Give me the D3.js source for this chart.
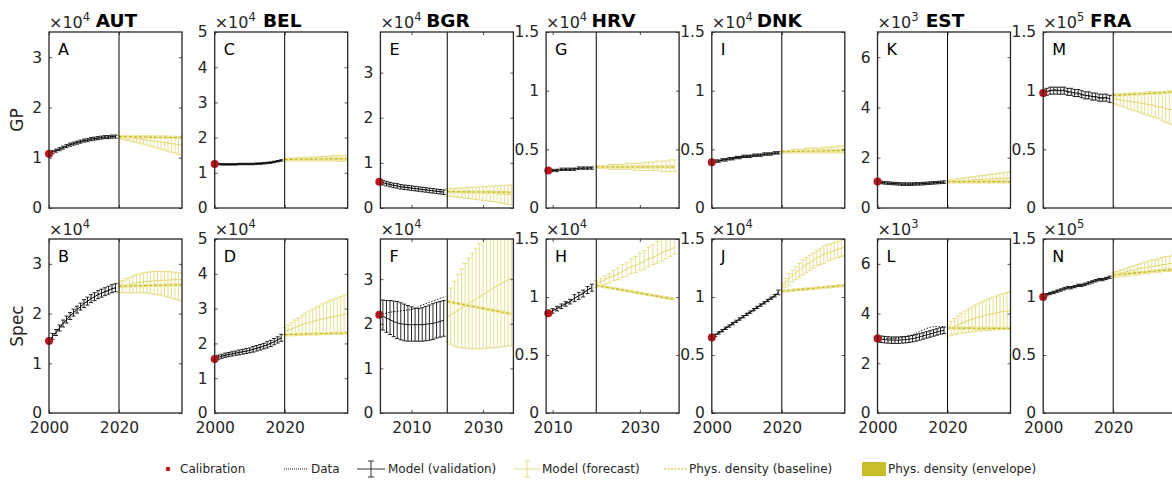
<!DOCTYPE html>
<html>
<head>
<meta charset="utf-8">
<script src="https://cdn.jsdelivr.net/npm/d3@7"></script>
<style>
  body { margin: 0; background: #fff; overflow: hidden; }
  svg { display: block; font-family: "DejaVu Sans", sans-serif; }
</style>
</head>
<body>
<svg id="fig" width="1172" height="481"></svg>
<script>
// ---- panel settings (one entry per country column) ----
const countries = ['AUT', 'BEL', 'BGR', 'HRV', 'DNK', 'EST', 'FRA'];
const exponents = [4, 4, 4, 4, 4, 3, 5];
const yMax = [3.5, 5, 3.9, 1.5, 1.5, 7, 1.5];
const yTicks = [[0, 1, 2, 3], [0, 1, 2, 3, 4, 5], [0, 1, 2, 3], [0, 0.5, 1, 1.5], [0, 0.5, 1, 1.5], [0, 2, 4, 6], [0, 0.5, 1, 1.5]];
const startYear = [2000, 2000, 2001, 2009, 2000, 2000, 2000];
const xLimits = [[2000, 2038], [2000, 2038], [2001.3, 2038.5], [2008.5, 2039], [2000, 2038], [2000, 2038], [2000, 2038]];
const xTicks = [[2000, 2020], [2000, 2020], [2010, 2030], [2010, 2030], [2000, 2020], [2000, 2020], [2000, 2020]];
const rowNames = ['GP', 'Spec'];
const letters = [['A', 'C', 'E', 'G', 'I', 'K', 'M'], ['B', 'D', 'F', 'H', 'J', 'L', 'N']];
const splitYear = 2020;
const fcYears = [2020, 2021, 2022, 2023, 2024, 2025, 2026, 2027, 2028, 2029, 2030, 2031, 2032, 2033, 2034, 2035, 2036, 2037, 2038];
const baseYears = [2020, 2038];

// ---- AUT ----
const autGpMid = [1.08,1.11,1.14,1.17,1.20,1.23,1.26,1.28,1.30,1.32,1.34,1.35,1.37,1.38,1.39,1.40,1.41,1.41,1.42,1.42];
const autGpLo = [1.05,1.08,1.11,1.14,1.17,1.20,1.23,1.25,1.27,1.29,1.31,1.32,1.34,1.35,1.36,1.37,1.38,1.38,1.39,1.39];
const autGpHi = [1.11,1.14,1.17,1.20,1.23,1.26,1.29,1.31,1.33,1.35,1.37,1.38,1.40,1.41,1.42,1.43,1.44,1.44,1.45,1.45];
const autGpObs = [1.08,1.10,1.15,1.16,1.21,1.22,1.27,1.27,1.31,1.31,1.35,1.34,1.38,1.37,1.40,1.39,1.42,1.40,1.43,1.41];
const autGpFMid = [1.41,1.41,1.40,1.39,1.39,1.38,1.37,1.36,1.35,1.34,1.33,1.32,1.31,1.30,1.29,1.28,1.27,1.26,1.24];
const autGpFLo = [1.38,1.37,1.35,1.34,1.32,1.30,1.29,1.27,1.25,1.23,1.21,1.19,1.17,1.15,1.13,1.11,1.09,1.07,1.05];
const autGpFHi = [1.44,1.44,1.44,1.44,1.44,1.44,1.44,1.44,1.44,1.43,1.43,1.43,1.43,1.43,1.43,1.42,1.42,1.42,1.42];
const autGpBase = [1.42, 1.40];

const autSpMid = [1.45,1.54,1.62,1.71,1.80,1.88,1.95,2.02,2.08,2.14,2.20,2.25,2.30,2.34,2.38,2.41,2.44,2.47,2.50,2.52];
const autSpLo = [1.40,1.48,1.56,1.65,1.73,1.81,1.88,1.95,2.01,2.07,2.12,2.17,2.22,2.26,2.30,2.33,2.36,2.39,2.42,2.44];
const autSpHi = [1.50,1.60,1.68,1.77,1.87,1.95,2.02,2.09,2.15,2.21,2.28,2.33,2.38,2.42,2.46,2.49,2.52,2.55,2.58,2.60];
const autSpObs = [1.45,1.53,1.63,1.70,1.81,1.87,1.96,2.01,2.09,2.13,2.21,2.24,2.31,2.33,2.39,2.40,2.45,2.46,2.51,2.51];
const autSpFMid = [2.52,2.55,2.57,2.59,2.61,2.62,2.63,2.64,2.65,2.65,2.66,2.66,2.67,2.67,2.67,2.68,2.68,2.68,2.68];
const autSpFLo = [2.42,2.42,2.42,2.42,2.42,2.42,2.42,2.42,2.41,2.40,2.39,2.38,2.37,2.35,2.33,2.31,2.29,2.27,2.25];
const autSpFHi = [2.62,2.66,2.70,2.73,2.76,2.78,2.80,2.82,2.83,2.84,2.85,2.85,2.85,2.85,2.84,2.84,2.83,2.82,2.81];
const autSpBase = [2.55, 2.58];

// ---- BEL ----
const belGpMid = [1.25,1.25,1.24,1.24,1.24,1.24,1.24,1.25,1.25,1.25,1.25,1.25,1.26,1.26,1.27,1.28,1.29,1.31,1.33,1.35];
const belGpLo = [1.23,1.23,1.22,1.22,1.22,1.22,1.22,1.23,1.23,1.23,1.23,1.23,1.24,1.24,1.25,1.26,1.27,1.29,1.31,1.33];
const belGpHi = [1.27,1.27,1.26,1.26,1.26,1.26,1.26,1.27,1.27,1.27,1.27,1.27,1.28,1.28,1.29,1.30,1.31,1.33,1.35,1.37];
const belGpObs = [1.25,1.24,1.25,1.23,1.24,1.25,1.23,1.25,1.26,1.24,1.25,1.26,1.25,1.27,1.27,1.29,1.29,1.32,1.33,1.36];
const belGpFMid = [1.37,1.37,1.38,1.38,1.38,1.39,1.39,1.39,1.40,1.40,1.40,1.40,1.41,1.41,1.41,1.41,1.42,1.42,1.42];
const belGpFLo = [1.34,1.34,1.34,1.34,1.34,1.34,1.34,1.34,1.34,1.34,1.34,1.34,1.34,1.34,1.33,1.33,1.33,1.33,1.33];
const belGpFHi = [1.40,1.41,1.41,1.42,1.43,1.43,1.44,1.44,1.45,1.45,1.46,1.46,1.47,1.47,1.48,1.48,1.49,1.49,1.50];
const belGpBase = [1.38, 1.40];

const belSpMid = [1.55,1.60,1.63,1.66,1.68,1.70,1.72,1.74,1.76,1.78,1.80,1.83,1.86,1.89,1.92,1.96,2.00,2.05,2.10,2.16];
const belSpLo = [1.49,1.54,1.57,1.60,1.62,1.64,1.66,1.67,1.69,1.71,1.73,1.75,1.78,1.81,1.84,1.87,1.91,1.96,2.01,2.06];
const belSpHi = [1.61,1.66,1.69,1.72,1.74,1.76,1.78,1.81,1.83,1.85,1.87,1.91,1.94,1.97,2.00,2.05,2.09,2.14,2.19,2.26];
const belSpObs = [1.55,1.59,1.64,1.65,1.69,1.69,1.73,1.73,1.77,1.77,1.81,1.82,1.87,1.88,1.93,1.95,2.01,2.04,2.11,2.15];
const belSpFMid = [2.33,2.38,2.42,2.46,2.50,2.54,2.57,2.60,2.63,2.66,2.68,2.71,2.73,2.75,2.77,2.79,2.81,2.83,2.85];
const belSpFLo = [2.22,2.24,2.25,2.26,2.27,2.27,2.28,2.28,2.28,2.28,2.28,2.28,2.28,2.28,2.28,2.28,2.28,2.28,2.28];
const belSpFHi = [2.45,2.53,2.60,2.67,2.74,2.81,2.87,2.93,2.99,3.04,3.09,3.14,3.19,3.23,3.27,3.31,3.35,3.39,3.43];
const belSpBase = [2.25, 2.30];

// ---- BGR ----
const bgrGpMid = [0.58,0.56,0.54,0.52,0.50,0.49,0.47,0.46,0.45,0.44,0.43,0.42,0.41,0.40,0.39,0.38,0.37,0.36,0.35];
const bgrGpLo = [0.53,0.51,0.49,0.47,0.45,0.44,0.42,0.41,0.40,0.39,0.38,0.37,0.36,0.35,0.34,0.33,0.32,0.31,0.30];
const bgrGpHi = [0.63,0.61,0.59,0.57,0.55,0.54,0.52,0.51,0.50,0.49,0.48,0.47,0.46,0.45,0.44,0.43,0.42,0.41,0.40];
const bgrGpObs = [0.58,0.57,0.54,0.53,0.50,0.50,0.47,0.47,0.45,0.45,0.43,0.43,0.41,0.41,0.39,0.39,0.37,0.37,0.35];
const bgrGpFMid = [0.35,0.35,0.35,0.35,0.34,0.34,0.34,0.34,0.33,0.33,0.33,0.32,0.32,0.32,0.31,0.31,0.31,0.30,0.30];
const bgrGpFLo = [0.27,0.26,0.25,0.24,0.23,0.22,0.21,0.20,0.19,0.18,0.17,0.16,0.15,0.14,0.13,0.11,0.10,0.08,0.07];
const bgrGpFHi = [0.43,0.43,0.44,0.44,0.44,0.45,0.45,0.46,0.46,0.47,0.47,0.48,0.48,0.49,0.49,0.50,0.50,0.51,0.51];
const bgrGpBase = [0.36, 0.35];

const bgrSpMid = [2.20,2.17,2.13,2.09,2.05,2.02,2.00,1.99,1.98,1.98,1.98,1.98,1.98,1.99,2.00,2.01,2.03,2.05,2.08];
const bgrSpLo = [1.90,1.86,1.81,1.76,1.71,1.67,1.64,1.62,1.61,1.61,1.61,1.61,1.61,1.62,1.63,1.65,1.68,1.70,1.72];
const bgrSpHi = [2.53,2.53,2.52,2.52,2.51,2.50,2.47,2.44,2.41,2.38,2.35,2.34,2.36,2.39,2.42,2.45,2.48,2.50,2.52];
const bgrSpObs = [2.20,2.22,2.24,2.26,2.27,2.28,2.29,2.30,2.31,2.32,2.34,2.38,2.42,2.45,2.48,2.51,2.54,2.57,2.60];
const bgrSpFMid = [2.15,2.20,2.25,2.30,2.35,2.40,2.45,2.50,2.55,2.60,2.65,2.70,2.75,2.80,2.85,2.90,2.94,2.99,3.04];
const bgrSpFLo = [1.60,1.54,1.50,1.47,1.46,1.45,1.45,1.44,1.44,1.44,1.45,1.45,1.46,1.46,1.47,1.48,1.49,1.50,1.51];
const bgrSpFHi = [2.62,2.80,2.95,3.10,3.23,3.35,3.47,3.58,3.69,3.80,3.90,4.00,4.10,4.20,4.30,4.40,4.50,4.60,4.70];
const bgrSpBase = [2.50, 2.22];

// ---- HRV ----
const hrvGpMid = [0.32,0.32,0.32,0.33,0.33,0.33,0.33,0.34,0.34,0.34,0.34];
const hrvGpLo = [0.31,0.31,0.31,0.32,0.32,0.32,0.32,0.33,0.33,0.33,0.33];
const hrvGpHi = [0.33,0.33,0.33,0.34,0.34,0.34,0.34,0.35,0.35,0.35,0.35];
const hrvGpObs = [0.32,0.32,0.33,0.32,0.33,0.33,0.34,0.33,0.34,0.34,0.35];
const hrvGpFMid = [0.35,0.35,0.35,0.35,0.35,0.35,0.35,0.35,0.35,0.35,0.36,0.36,0.36,0.36,0.36,0.36,0.36,0.36,0.36];
const hrvGpFLo = [0.34,0.34,0.34,0.33,0.33,0.33,0.33,0.33,0.33,0.32,0.32,0.32,0.32,0.32,0.32,0.31,0.31,0.31,0.31];
const hrvGpFHi = [0.36,0.36,0.36,0.37,0.37,0.37,0.37,0.38,0.38,0.38,0.38,0.39,0.39,0.39,0.40,0.40,0.40,0.41,0.41];
const hrvGpBase = [0.35, 0.35];

const hrvSpMid = [0.86,0.88,0.90,0.92,0.94,0.96,0.99,1.01,1.03,1.06,1.08];
const hrvSpLo = [0.84,0.86,0.88,0.90,0.92,0.94,0.96,0.98,1.00,1.03,1.05];
const hrvSpHi = [0.88,0.90,0.92,0.94,0.96,0.98,1.02,1.04,1.06,1.09,1.11];
const hrvSpObs = [0.86,0.88,0.91,0.92,0.95,0.96,0.99,1.01,1.04,1.06,1.09];
const hrvSpFMid = [1.11,1.13,1.15,1.17,1.18,1.20,1.22,1.24,1.26,1.27,1.29,1.31,1.33,1.34,1.36,1.38,1.40,1.41,1.43];
const hrvSpFLo = [1.08,1.09,1.11,1.12,1.14,1.15,1.17,1.18,1.20,1.21,1.23,1.24,1.26,1.28,1.29,1.31,1.33,1.35,1.37];
const hrvSpFHi = [1.14,1.16,1.18,1.20,1.23,1.25,1.28,1.30,1.33,1.35,1.38,1.40,1.43,1.45,1.48,1.50,1.52,1.54,1.56];
const hrvSpBase = [1.10, 0.98];

// ---- DNK ----
const dnkGpMid = [0.39,0.40,0.40,0.41,0.41,0.42,0.42,0.43,0.43,0.44,0.44,0.44,0.45,0.45,0.45,0.46,0.46,0.46,0.47,0.47];
const dnkGpLo = [0.38,0.39,0.39,0.40,0.40,0.41,0.41,0.42,0.42,0.43,0.43,0.43,0.44,0.44,0.44,0.45,0.45,0.45,0.46,0.46];
const dnkGpHi = [0.40,0.41,0.41,0.42,0.42,0.43,0.43,0.44,0.44,0.45,0.45,0.45,0.46,0.46,0.46,0.47,0.47,0.47,0.48,0.48];
const dnkGpObs = [0.39,0.39,0.40,0.41,0.42,0.41,0.42,0.43,0.44,0.43,0.44,0.45,0.44,0.45,0.46,0.45,0.46,0.47,0.46,0.47];
const dnkGpFMid = [0.48,0.48,0.48,0.48,0.48,0.49,0.49,0.49,0.49,0.49,0.49,0.49,0.50,0.50,0.50,0.50,0.50,0.50,0.50];
const dnkGpFLo = [0.47,0.47,0.47,0.47,0.47,0.47,0.47,0.47,0.47,0.47,0.47,0.47,0.47,0.47,0.47,0.47,0.47,0.47,0.47];
const dnkGpFHi = [0.49,0.49,0.49,0.50,0.50,0.50,0.50,0.51,0.51,0.51,0.51,0.51,0.52,0.52,0.52,0.52,0.53,0.53,0.53];
const dnkGpBase = [0.48, 0.49];

const dnkSpMid = [0.65,0.67,0.69,0.71,0.73,0.75,0.77,0.79,0.81,0.83,0.85,0.87,0.89,0.91,0.93,0.95,0.97,0.99,1.01,1.04];
const dnkSpLo = [0.64,0.66,0.68,0.70,0.72,0.74,0.76,0.78,0.80,0.82,0.84,0.86,0.88,0.90,0.92,0.94,0.96,0.98,1.00,1.02];
const dnkSpHi = [0.66,0.68,0.70,0.72,0.74,0.76,0.78,0.80,0.82,0.84,0.86,0.88,0.90,0.92,0.94,0.96,0.98,1.00,1.02,1.06];
const dnkSpObs = [0.65,0.67,0.70,0.71,0.74,0.75,0.78,0.79,0.82,0.83,0.86,0.87,0.90,0.91,0.94,0.95,0.98,0.99,1.02,1.04];
const dnkSpFMid = [1.09,1.12,1.15,1.18,1.21,1.23,1.26,1.28,1.30,1.32,1.34,1.35,1.37,1.38,1.39,1.40,1.41,1.42,1.43];
const dnkSpFLo = [1.06,1.08,1.10,1.13,1.15,1.17,1.19,1.21,1.23,1.25,1.27,1.28,1.29,1.31,1.32,1.33,1.34,1.35,1.36];
const dnkSpFHi = [1.12,1.16,1.20,1.23,1.26,1.29,1.32,1.34,1.36,1.38,1.40,1.42,1.44,1.45,1.46,1.47,1.48,1.49,1.50];
const dnkSpBase = [1.05, 1.10];

// ---- EST ----
const estGpMid = [1.05,1.02,1.00,0.99,0.98,0.97,0.96,0.95,0.95,0.95,0.95,0.96,0.96,0.97,0.98,0.99,1.00,1.01,1.02,1.03];
const estGpLo = [1.00,0.97,0.95,0.94,0.93,0.92,0.91,0.90,0.90,0.90,0.90,0.91,0.91,0.92,0.93,0.94,0.95,0.96,0.97,0.98];
const estGpHi = [1.10,1.07,1.05,1.04,1.03,1.02,1.01,1.00,1.00,1.00,1.00,1.01,1.01,1.02,1.03,1.04,1.05,1.06,1.07,1.08];
const estGpObs = [1.05,1.01,1.01,0.98,0.99,0.96,0.97,0.94,0.96,0.94,0.96,0.95,0.97,0.96,0.99,0.98,1.01,1.00,1.03,1.02];
const estGpFMid = [1.05,1.06,1.07,1.08,1.09,1.10,1.10,1.11,1.12,1.13,1.14,1.14,1.15,1.16,1.17,1.17,1.18,1.19,1.20];
const estGpFLo = [1.00,1.00,1.00,1.00,1.00,1.00,1.00,1.00,1.00,1.00,1.00,1.00,1.00,1.00,1.00,1.00,1.00,1.00,1.00];
const estGpFHi = [1.10,1.12,1.14,1.16,1.18,1.20,1.22,1.24,1.26,1.28,1.30,1.31,1.33,1.35,1.37,1.39,1.41,1.43,1.45];
const estGpBase = [1.05, 1.05];

const estSpMid = [3.00,2.97,2.95,2.94,2.93,2.93,2.93,2.94,2.95,2.97,2.99,3.02,3.06,3.10,3.14,3.18,3.22,3.26,3.30,3.33];
const estSpLo = [2.87,2.84,2.82,2.81,2.80,2.80,2.80,2.81,2.82,2.84,2.86,2.89,2.93,2.97,3.01,3.05,3.09,3.13,3.17,3.20];
const estSpHi = [3.13,3.10,3.08,3.07,3.06,3.06,3.06,3.07,3.08,3.10,3.12,3.15,3.19,3.23,3.27,3.31,3.35,3.39,3.43,3.46];
const estSpObs = [3.05,3.02,3.00,2.99,2.99,3.00,3.01,3.03,3.06,3.10,3.15,3.20,3.27,3.34,3.40,3.45,3.47,3.48,3.47,3.45];
const estSpFMid = [3.35,3.42,3.49,3.55,3.61,3.67,3.72,3.77,3.82,3.86,3.90,3.94,3.97,4.00,4.03,4.06,4.08,4.10,4.12];
const estSpFLo = [3.10,3.13,3.16,3.19,3.21,3.23,3.25,3.27,3.29,3.30,3.31,3.32,3.33,3.34,3.35,3.36,3.37,3.38,3.38];
const estSpFHi = [3.55,3.68,3.80,3.91,4.01,4.10,4.19,4.27,4.35,4.42,4.49,4.55,4.61,4.66,4.71,4.76,4.80,4.84,4.87];
const estSpBase = [3.42, 3.40];

// ---- FRA ----
const fraGpMid = [0.98,0.99,1.00,1.00,1.00,1.00,1.00,0.99,0.99,0.98,0.98,0.97,0.96,0.96,0.95,0.95,0.94,0.94,0.94,0.93];
const fraGpLo = [0.95,0.96,0.97,0.97,0.97,0.97,0.97,0.96,0.96,0.95,0.95,0.94,0.93,0.93,0.92,0.92,0.91,0.91,0.91,0.90];
const fraGpHi = [1.01,1.02,1.03,1.03,1.03,1.03,1.03,1.02,1.02,1.01,1.01,1.00,0.99,0.99,0.98,0.98,0.97,0.97,0.97,0.96];
const fraGpObs = [0.98,1.00,1.00,1.01,1.01,1.00,1.01,0.99,0.98,0.97,0.97,0.96,0.96,0.95,0.95,0.94,0.94,0.93,0.94,0.93];
const fraGpFMid = [0.93,0.93,0.92,0.92,0.91,0.91,0.90,0.90,0.89,0.89,0.88,0.88,0.87,0.86,0.86,0.85,0.84,0.84,0.83];
const fraGpFLo = [0.89,0.88,0.87,0.86,0.85,0.84,0.83,0.82,0.81,0.80,0.79,0.78,0.77,0.76,0.74,0.73,0.72,0.71,0.70];
const fraGpFHi = [0.97,0.97,0.97,0.97,0.98,0.98,0.98,0.98,0.98,0.98,0.99,0.99,0.99,0.99,0.99,0.99,1.00,1.00,1.00];
const fraGpBase = [0.96, 0.99];

const fraSpMid = [1.00,1.02,1.03,1.04,1.05,1.06,1.07,1.08,1.08,1.09,1.10,1.10,1.11,1.12,1.13,1.14,1.15,1.15,1.16,1.17];
const fraSpLo = [0.99,1.01,1.02,1.03,1.04,1.05,1.06,1.07,1.07,1.08,1.09,1.09,1.10,1.11,1.12,1.13,1.14,1.14,1.15,1.16];
const fraSpHi = [1.01,1.03,1.04,1.05,1.06,1.07,1.08,1.09,1.09,1.10,1.11,1.11,1.12,1.13,1.14,1.15,1.16,1.16,1.17,1.18];
const fraSpObs = [1.00,1.02,1.04,1.04,1.06,1.06,1.08,1.08,1.09,1.09,1.10,1.11,1.11,1.13,1.13,1.15,1.15,1.16,1.16,1.18];
const fraSpFMid = [1.19,1.20,1.21,1.21,1.22,1.23,1.23,1.24,1.25,1.25,1.26,1.26,1.27,1.27,1.28,1.28,1.29,1.29,1.30];
const fraSpFLo = [1.17,1.17,1.18,1.18,1.18,1.19,1.19,1.19,1.20,1.20,1.20,1.21,1.21,1.21,1.22,1.22,1.22,1.23,1.23];
const fraSpFHi = [1.21,1.22,1.23,1.24,1.25,1.26,1.27,1.28,1.29,1.30,1.31,1.32,1.32,1.33,1.34,1.35,1.35,1.36,1.37];
const fraSpBase = [1.19, 1.24];

// rows of [mid, lo, hi, obs, fcMid, fcLo, fcHi, base], same order as countries
const gpRows = [
  [autGpMid, autGpLo, autGpHi, autGpObs, autGpFMid, autGpFLo, autGpFHi, autGpBase],
  [belGpMid, belGpLo, belGpHi, belGpObs, belGpFMid, belGpFLo, belGpFHi, belGpBase],
  [bgrGpMid, bgrGpLo, bgrGpHi, bgrGpObs, bgrGpFMid, bgrGpFLo, bgrGpFHi, bgrGpBase],
  [hrvGpMid, hrvGpLo, hrvGpHi, hrvGpObs, hrvGpFMid, hrvGpFLo, hrvGpFHi, hrvGpBase],
  [dnkGpMid, dnkGpLo, dnkGpHi, dnkGpObs, dnkGpFMid, dnkGpFLo, dnkGpFHi, dnkGpBase],
  [estGpMid, estGpLo, estGpHi, estGpObs, estGpFMid, estGpFLo, estGpFHi, estGpBase],
  [fraGpMid, fraGpLo, fraGpHi, fraGpObs, fraGpFMid, fraGpFLo, fraGpFHi, fraGpBase],
];
const specRows = [
  [autSpMid, autSpLo, autSpHi, autSpObs, autSpFMid, autSpFLo, autSpFHi, autSpBase],
  [belSpMid, belSpLo, belSpHi, belSpObs, belSpFMid, belSpFLo, belSpFHi, belSpBase],
  [bgrSpMid, bgrSpLo, bgrSpHi, bgrSpObs, bgrSpFMid, bgrSpFLo, bgrSpFHi, bgrSpBase],
  [hrvSpMid, hrvSpLo, hrvSpHi, hrvSpObs, hrvSpFMid, hrvSpFLo, hrvSpFHi, hrvSpBase],
  [dnkSpMid, dnkSpLo, dnkSpHi, dnkSpObs, dnkSpFMid, dnkSpFLo, dnkSpFHi, dnkSpBase],
  [estSpMid, estSpLo, estSpHi, estSpObs, estSpFMid, estSpFLo, estSpFHi, estSpBase],
  [fraSpMid, fraSpLo, fraSpHi, fraSpObs, fraSpFMid, fraSpFLo, fraSpFHi, fraSpBase],
];

// ---- layout ----
const colLeft0 = 49, colStep = 165.7, plotW = 133;
const rowTop = [32, 239], rowH = [176, 174];
const ink = '#262626';
const black = '#000';
const fcColor = '#e0d66c';
const baseColor = '#c6b414';
const baseGlow = '#eee8a6';
const calColor = '#c0141c';
const tickFont = 15.5;

const svg = d3.select('#fig');
const defs = svg.append('defs');

function errorBars(g, x, y, years, lo, hi, color, cap, width) {
  const bars = g.append('g').attr('stroke', color).attr('stroke-width', width).attr('fill', 'none');
  years.forEach((yr, i) => {
    const px = x(yr);
    bars.append('line').attr('x1', px).attr('x2', px).attr('y1', y(lo[i])).attr('y2', y(hi[i]));
    bars.append('line').attr('x1', px - cap).attr('x2', px + cap).attr('y1', y(lo[i])).attr('y2', y(lo[i]));
    bars.append('line').attr('x1', px - cap).attr('x2', px + cap).attr('y1', y(hi[i])).attr('y2', y(hi[i]));
  });
}

function drawPanel(col, row) {
  const s = row === 0 ? gpRows[col] : specRows[col];
  const [mid, lo, hi, obs, fMid, fLo, fHi, base] = s;
  const left = colLeft0 + col * colStep;
  const top = rowTop[row];
  const h = rowH[row];
  const g = svg.append('g').attr('transform', `translate(${left},${top})`);

  const x = d3.scaleLinear().domain(xLimits[col]).range([0, plotW]);
  const y = d3.scaleLinear().domain([0, yMax[col]]).range([h, 0]);
  const valYears = d3.range(startYear[col], splitYear);

  const clipId = `clip-${col}-${row}`;
  defs.append('clipPath').attr('id', clipId)
    .append('rect').attr('width', plotW).attr('height', h);
  const plot = g.append('g').attr('clip-path', `url(#${clipId})`);

  // forecast (yellow)
  errorBars(plot, x, y, fcYears, fLo, fHi, fcColor, 2.5, 0.75);
  plot.append('path').datum(fMid)
    .attr('fill', 'none').attr('stroke', fcColor).attr('stroke-width', 1)
    .attr('d', d3.line().x((d, i) => x(fcYears[i])).y(d => y(d)));

  // physical density baseline
  const baseLine = d3.line().x((d, i) => x(baseYears[i])).y(d => y(d));
  plot.append('path').datum(base)
    .attr('fill', 'none').attr('stroke', baseGlow).attr('stroke-width', 3.5).attr('d', baseLine);
  plot.append('path').datum(base)
    .attr('fill', 'none').attr('stroke', baseColor).attr('stroke-width', 1.1)
    .attr('stroke-dasharray', '3,2').attr('d', baseLine);

  // validation (black)
  errorBars(plot, x, y, valYears, lo, hi, black, 2, 0.85);
  plot.append('path').datum(mid)
    .attr('fill', 'none').attr('stroke', black).attr('stroke-width', 0.9)
    .attr('d', d3.line().x((d, i) => x(valYears[i])).y(d => y(d)));
  plot.append('path').datum(obs)
    .attr('fill', 'none').attr('stroke', black).attr('stroke-width', 0.9)
    .attr('stroke-dasharray', '1.5,1.5')
    .attr('d', d3.line().x((d, i) => x(valYears[i])).y(d => y(d)));

  // split line
  g.append('line').attr('x1', x(splitYear)).attr('x2', x(splitYear))
    .attr('y1', 0).attr('y2', h).attr('stroke', black).attr('stroke-width', 1);

  // calibration point
  g.append('circle').attr('cx', x(startYear[col])).attr('cy', y(mid[0]))
    .attr('r', 4).attr('fill', calColor);

  // axes (ticks pointing inward on all four sides)
  const fmt = d => String(d);
  const axL = g.append('g').call(d3.axisLeft(y).tickValues(yTicks[col]).tickSize(-3).tickSizeOuter(0).tickPadding(7).tickFormat(fmt));
  const axR = g.append('g').attr('transform', `translate(${plotW},0)`)
    .call(d3.axisRight(y).tickValues(yTicks[col]).tickSize(-3).tickSizeOuter(0).tickFormat(''));
  const axB = g.append('g').attr('transform', `translate(0,${h})`)
    .call(d3.axisBottom(x).tickValues(xTicks[col]).tickSize(-3).tickSizeOuter(0).tickPadding(9)
      .tickFormat(row === 1 ? d3.format('d') : ''));
  const axT = g.append('g')
    .call(d3.axisTop(x).tickValues(xTicks[col]).tickSize(-3).tickSizeOuter(0).tickFormat(''));
  [axL, axR, axB, axT].forEach(a => {
    a.select('.domain').remove();
    a.selectAll('line').attr('stroke', ink).attr('stroke-width', 0.8);
    a.selectAll('text').attr('fill', ink).style('font-size', tickFont + 'px')
      .style('font-family', '"DejaVu Sans", sans-serif');
  });
  g.append('rect').attr('width', plotW).attr('height', h)
    .attr('fill', 'none').attr('stroke', ink).attr('stroke-width', 1.3);

  // exponent label
  const ex = g.append('text').attr('x', 0).attr('y', -4).attr('fill', ink)
    .style('font-size', '16px');
  ex.append('tspan').text('\u00d710');
  ex.append('tspan').attr('dy', -7).style('font-size', '11.5px').text(exponents[col]);

  // country title (top row only)
  if (row === 0) {
    g.append('text').attr('x', plotW / 2 + 1).attr('y', -5).attr('text-anchor', 'middle')
      .attr('fill', black).style('font-size', '18.5px').style('font-weight', 'bold')
      .text(countries[col]);
  }

  // panel letter
  g.append('text').attr('x', 9).attr('y', 23).attr('fill', black)
    .style('font-size', '16px').text(letters[row][col]);
}

for (let r = 0; r < 2; r++) {
  for (let c = 0; c < countries.length; c++) drawPanel(c, r);
}

// row labels
rowNames.forEach((name, r) => {
  const cy = rowTop[r] + rowH[r] / 2;
  svg.append('text').attr('transform', `translate(23,${cy}) rotate(-90)`)
    .attr('text-anchor', 'middle').attr('fill', ink).style('font-size', '17px').text(name);
});

// ---- legend ----
const legY = 469;
const leg = svg.append('g').style('font-size', '12px').attr('fill', ink);
function legText(x, t) {
  leg.append('text').attr('x', x).attr('y', legY + 4.3).text(t);
}
function legErr(x1, x2, color) {
  const xm = (x1 + x2) / 2;
  const gg = leg.append('g').attr('stroke', color).attr('stroke-width', 0.8);
  gg.append('line').attr('x1', x1).attr('x2', x2).attr('y1', legY).attr('y2', legY);
  gg.append('line').attr('x1', xm).attr('x2', xm).attr('y1', legY - 8).attr('y2', legY + 8);
  gg.append('line').attr('x1', xm - 3).attr('x2', xm + 3).attr('y1', legY - 8).attr('y2', legY - 8);
  gg.append('line').attr('x1', xm - 3).attr('x2', xm + 3).attr('y1', legY + 8).attr('y2', legY + 8);
}
leg.append('circle').attr('cx', 168).attr('cy', legY).attr('r', 2.3).attr('fill', calColor);
legText(180, 'Calibration');
leg.append('line').attr('x1', 284).attr('x2', 308).attr('y1', legY).attr('y2', legY)
  .attr('stroke', black).attr('stroke-width', 0.9).attr('stroke-dasharray', '1,1');
legText(311, 'Data');
legErr(357, 385, black);
legText(388, 'Model (validation)');
legErr(514, 540, fcColor);
legText(542, 'Model (forecast)');
leg.append('line').attr('x1', 664).attr('x2', 688).attr('y1', legY).attr('y2', legY)
  .attr('stroke', baseColor).attr('stroke-width', 1.1).attr('stroke-dasharray', '2,1.5');
legText(689, 'Phys. density (baseline)');
leg.append('rect').attr('x', 862).attr('y', legY - 7).attr('width', 24).attr('height', 14)
  .attr('fill', '#c9bd2a');
legText(888, 'Phys. density (envelope)');
</script>
</body>
</html>
